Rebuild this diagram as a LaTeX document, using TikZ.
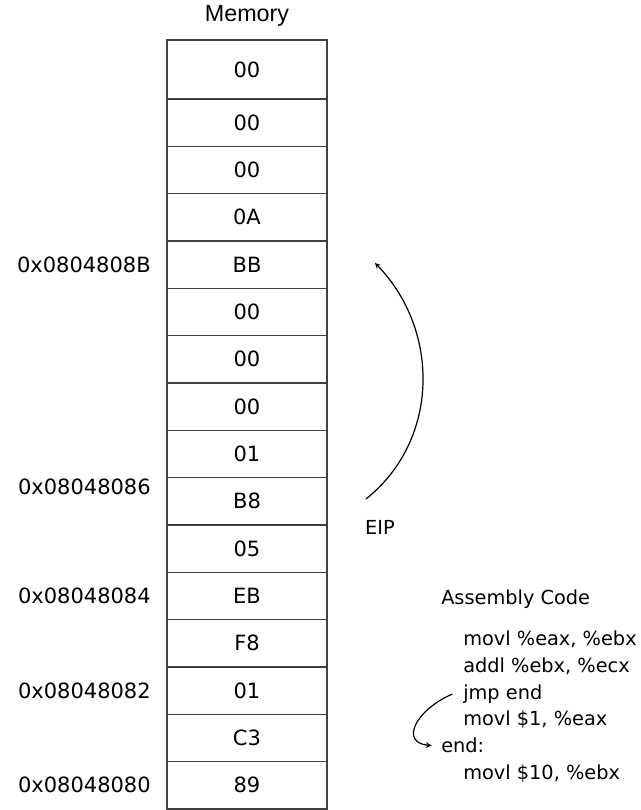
\documentclass[tikz,border=0pt]{standalone}
\usepackage{fontspec}
\setmainfont{DejaVu Sans}
\newfontfamily\titlefont{Liberation Sans}
\usetikzlibrary{positioning}

\tikzstyle{cell} = [rectangle, minimum width=120pt, minimum height=35.5pt, outer sep=0pt, text centered, draw=black!75, line width=1pt, font=\fontsize{15.75}{18}\selectfont]
\tikzstyle{addr} = [inner sep=0pt, font=\fontsize{15.75}{18}\selectfont]
\tikzstyle{code} = [inner sep=0pt, anchor=base west, font=\fontsize{14.5}{17}\selectfont]
\tikzstyle{arrow} = [line width=0.9pt,->,>=stealth]

\begin{document}
\begin{tikzpicture}[x=0.75pt, y=0.75pt]
    \useasboundingbox (0,0) rectangle (641,810);

    % memory column
    \node (title) at (247,794) {\titlefont\fontsize{17.5}{20}\selectfont Memory};
    \node (m0)[cell, minimum height=44.25pt] at (247,740.5) {00};
    \node (m1)[cell, below=0pt of m0] {00};
    \node (m2)[cell, below=0pt of m1] {00};
    \node (m3)[cell, below=0pt of m2] {0A};
    \node (m4)[cell, below=0pt of m3] {BB};
    \node (m5)[cell, below=0pt of m4] {00};
    \node (m6)[cell, below=0pt of m5] {00};
    \node (m7)[cell, below=0pt of m6] {00};
    \node (m8)[cell, below=0pt of m7] {01};
    \node (m9)[cell, below=0pt of m8] {B8};
    \node (m10)[cell, below=0pt of m9] {05};
    \node (m11)[cell, below=0pt of m10] {EB};
    \node (m12)[cell, below=0pt of m11] {F8};
    \node (m13)[cell, below=0pt of m12] {01};
    \node (m14)[cell, below=0pt of m13] {C3};
    \node (m15)[cell, below=0pt of m14] {89};

    % addresses
    \node (a4)[addr, left=12pt of m4] {0x0804808B};
    \node (a9)[addr, left=12pt of m9, yshift=11pt] {0x08048086};
    \node (a11)[addr, left=12pt of m11] {0x08048084};
    \node (a13)[addr, left=12pt of m13] {0x08048082};
    \node (a15)[addr, left=12pt of m15] {0x08048080};

    % instruction pointer
    \node (eip)[code, anchor=center] at (380,283) {EIP};
    \coordinate (eipfrom) at (366,311);
    \coordinate (eipto) at (375,547);
    \draw [arrow] (eipfrom) .. controls (440,370) and (440,480) .. (eipto);

    % assembly listing
    \node (asm)[code] at (441,205) {Assembly Code};
    \node (l1)[code] at (463,164) {movl \%eax, \%ebx};
    \node (l2)[code] at (463,137.3) {addl \%ebx, \%ecx};
    \node (jmp)[code] at (463,110.6) {jmp end};
    \node (l4)[code] at (463,84) {movl \$1, \%eax};
    \node (endl)[code] at (441,57.2) {end:};
    \node (l6)[code] at (463,30.5) {movl \$10, \%ebx};

    \draw [arrow] ([xshift=-8pt]jmp.west) .. controls +(-37,-16) and +(-32,3) .. ([xshift=-7pt]endl.west);

\end{tikzpicture}
\end{document}
